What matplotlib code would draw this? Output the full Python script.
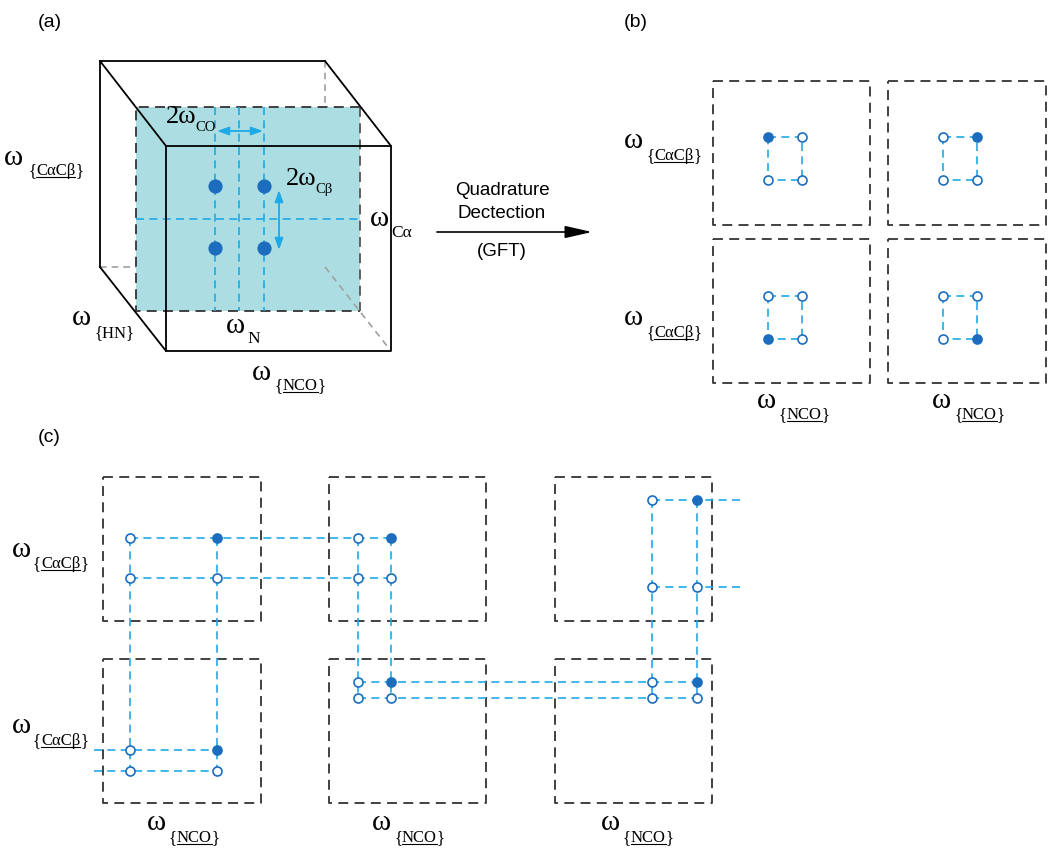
import matplotlib.pyplot as plt

# colours
blue_line = '#1eaae6'
blue_dot = '#1c6dbd'
box_col = '#333333'
plane_col = '#acdde3'

# panel (a) - cube corners (back face, front face) and the mid plane
back_x = [100, 325]
back_y = [61, 267]
front_x = [166, 391]
front_y = [146, 351]
plane_x = [136, 360]
plane_y = [107, 311]
cube_grid_x = [215, 239, 264]
cube_grid_y = [219]
cube_peak_x = [215, 264]
cube_peak_y = [186, 248]

# panel (b) - four spectra
b_box_x = [(713, 870), (888, 1046)]
b_box_y = [(81, 225), (239, 383)]
b_peak_x = [(768, 802), (943, 977)]
b_peak_y = [(137, 180), (296, 339)]
b_filled = {(0, 0): (0, 0), (1, 0): (1, 0), (0, 1): (0, 1), (1, 1): (1, 1)}

# panel (c) - strips
c_box_x = [(103, 261), (329, 486), (555, 712)]
c_box_y = [(477, 621), (659, 803)]
c_peak_x = [130, 217, 130, 217, 358, 391, 358, 391,
            130, 217, 130, 217, 358, 391, 358, 391,
            652, 697, 652, 697, 652, 697, 652, 697]
c_peak_y = [538, 538, 578, 578, 538, 538, 578, 578,
            750, 750, 771, 771, 682, 682, 698, 698,
            500, 500, 587, 587, 682, 682, 698, 698]
c_peak_full = [0, 1, 0, 0, 0, 1, 0, 0,
               0, 1, 0, 0, 0, 1, 0, 0,
               0, 1, 0, 0, 0, 1, 0, 0]
c_hlines = [(538, 130, 391), (578, 130, 391), (750, 94, 217), (771, 94, 217),
            (682, 358, 697), (698, 358, 697), (500, 652, 740), (587, 652, 740)]
c_vlines = [(130, 538, 771), (217, 538, 771), (358, 538, 698), (391, 538, 698),
            (652, 500, 698), (697, 500, 698)]

fig = plt.figure(figsize=(10.5, 8.5), dpi=100)
ax = fig.add_axes([0, 0, 1, 1])
ax.set_xlim(0, 1050)
ax.set_ylim(850, 0)
ax.axis('off')
rend = fig.canvas.get_renderer()

box_ls = (0, (5.5, 3.5))
blue_ls = (0, (4.8, 3.2))
serif = 'Liberation Serif'


def width(t):
    return t.get_window_extent(renderer=rend).width


def omega(x, y, sub, under=False, size=21, subsize=12, dx=23, dy=11, pre='ω'):
    ax.text(x, y, pre, fontsize=size, family=serif, va='baseline', ha='left')
    sx, sy = x + dx, y + dy
    if not under:
        ax.text(sx, sy, sub, fontsize=subsize, family=serif, va='baseline', ha='left')
        return
    # braces + underlined inner part
    t1 = ax.text(sx, sy, '{', fontsize=subsize, family=serif, va='baseline', ha='left')
    w1 = width(t1)
    t2 = ax.text(sx + w1, sy, sub, fontsize=subsize, family=serif, va='baseline', ha='left')
    w2 = width(t2)
    ax.text(sx + w1 + w2, sy, '}', fontsize=subsize, family=serif, va='baseline', ha='left')
    ax.plot([sx + w1, sx + w1 + w2], [sy + 2, sy + 2], color='black', lw=0.8)


def dbox(x0, x1, y0, y1):
    ax.plot([x0, x1, x1, x0, x0], [y0, y0, y1, y1, y0], color=box_col, lw=1.3, ls=box_ls, zorder=2)


def peak(x, y, full, ms=6.5):
    ax.plot(x, y, 'o', ms=ms, mec=blue_dot, mew=1.2,
            mfc=blue_dot if full else 'white', zorder=5)


# ---------- (a) ----------
ax.text(38, 22, '(a)', fontsize=14, family='Liberation Sans', va='center')
gray = '#a0a0a0'
# hidden edges
ax.plot([back_x[0], front_x[0]], [back_y[1], back_y[1]], color=gray, lw=1.2, ls=(0, (4, 3)), zorder=1)
ax.plot([back_x[1], back_x[1]], [back_y[0], plane_y[0]], color=gray, lw=1.2, ls=(0, (4, 3)), zorder=1)
ax.plot([back_x[1], front_x[1]], [back_y[1], front_y[1]], color=gray, lw=1.2, ls=(0, (4, 3)), zorder=3)
# plane
ax.fill([plane_x[0], plane_x[1], plane_x[1], plane_x[0]],
        [plane_y[0], plane_y[0], plane_y[1], plane_y[1]], color=plane_col, lw=0, zorder=1.5)
ax.plot([plane_x[1], plane_x[0], plane_x[0], plane_x[1]],
        [plane_y[0], plane_y[0], plane_y[1], plane_y[1]], color=box_col, lw=1.3, ls=box_ls, zorder=2)
ax.plot([plane_x[1], plane_x[1]], [plane_y[0], plane_y[1]], color='#555555', lw=1.3, ls=box_ls, zorder=2)
for gx in cube_grid_x:
    ax.plot([gx, gx], plane_y, color=blue_line, lw=1.2, ls=blue_ls, zorder=2.5)
for gy in cube_grid_y:
    ax.plot(plane_x, [gy, gy], color=blue_line, lw=1.2, ls=blue_ls, zorder=2.5)
for px in cube_peak_x:
    for py in cube_peak_y:
        peak(px, py, True, ms=9)
# solid edges
k = dict(color='black', lw=1.3, zorder=4)
ax.plot([back_x[0], back_x[0], back_x[1]], [back_y[1], back_y[0], back_y[0]], **k)
ax.plot([front_x[0], front_x[1], front_x[1], front_x[0], front_x[0]],
        [front_y[0], front_y[0], front_y[1], front_y[1], front_y[0]], **k)
ax.plot([back_x[0], front_x[0]], [back_y[0], front_y[0]], **k)
ax.plot([back_x[1], front_x[1]], [back_y[0], front_y[0]], **k)
ax.plot([back_x[0], front_x[0]], [back_y[1], front_y[1]], **k)
# arrows
aprop = dict(arrowstyle='<|-|>,head_length=0.7,head_width=0.25', color=blue_line, lw=1.3,
             shrinkA=0, shrinkB=0, mutation_scale=10)
ax.annotate('', xy=(263, 131), xytext=(217, 131), arrowprops=aprop, zorder=4)
ax.annotate('', xy=(279, 250), xytext=(279, 190), arrowprops=aprop, zorder=4)
omega(166, 123, 'CO', pre='2ω', size=19, subsize=10.5, dx=29, dy=8)
omega(286, 185, 'Cβ', pre='2ω', size=19, subsize=10.5, dx=29, dy=8)
omega(370, 226, 'Cα', subsize=12.5, dx=21, dy=11)
omega(4, 165, 'CαCβ', under=True, dx=24, dy=10)
omega(72, 325, '{HN}', dx=22, dy=12)
omega(226, 333, 'N', dx=21, dy=10, subsize=12.5)
omega(252, 380, 'NCO', under=True, dx=23, dy=10)

# ---------- arrow ----------
ax.annotate('', xy=(592, 232), xytext=(437, 232),
            arrowprops=dict(arrowstyle='-|>,head_length=1.1,head_width=0.25', color='black',
                            lw=1.2, shrinkA=0, shrinkB=0, mutation_scale=15))
for txt, ty in [('Quadrature', 190), ('Dectection', 213), ('(GFT)', 251)]:
    ax.text(502, ty, txt, fontsize=13.5, family='Liberation Sans', ha='center', va='center')

# ---------- (b) ----------
ax.text(624, 22, '(b)', fontsize=14, family='Liberation Sans', va='center')
for j, (y0, y1) in enumerate(b_box_y):
    for i, (x0, x1) in enumerate(b_box_x):
        dbox(x0, x1, y0, y1)
        px = b_peak_x[i]
        py = b_peak_y[j]
        ax.plot([px[0], px[1], px[1], px[0], px[0]], [py[0], py[0], py[1], py[1], py[0]],
                color=blue_line, lw=1.2, ls=blue_ls, zorder=3)
        fi, fj = b_filled[(i, j)]
        for a in range(2):
            for b in range(2):
                peak(px[a], py[b], (a, b) == (fi, fj))
omega(624, 148, 'CαCβ', under=True, dx=22, dy=12)
omega(624, 325, 'CαCβ', under=True, dx=22, dy=12)
omega(757, 408, 'NCO', under=True, dx=22, dy=11)
omega(932, 408, 'NCO', under=True, dx=22, dy=11)

# ---------- (c) ----------
ax.text(38, 437, '(c)', fontsize=14, family='Liberation Sans', va='center')
for (y0, y1) in c_box_y:
    for (x0, x1) in c_box_x:
        dbox(x0, x1, y0, y1)
for y, x0, x1 in c_hlines:
    ax.plot([x0, x1], [y, y], color=blue_line, lw=1.2, ls=blue_ls, zorder=3)
for x, y0, y1 in c_vlines:
    ax.plot([x, x], [y0, y1], color=blue_line, lw=1.2, ls=blue_ls, zorder=3)
for x, y, f in zip(c_peak_x, c_peak_y, c_peak_full):
    peak(x, y, f)
omega(12, 557, 'CαCβ', under=True, dx=21, dy=11)
omega(12, 733, 'CαCβ', under=True, dx=21, dy=12)
omega(147, 830, 'NCO', under=True, dx=22, dy=12)
omega(372, 830, 'NCO', under=True, dx=22, dy=12)
omega(601, 830, 'NCO', under=True, dx=22, dy=12)

fig.savefig('out.png', dpi=100)
